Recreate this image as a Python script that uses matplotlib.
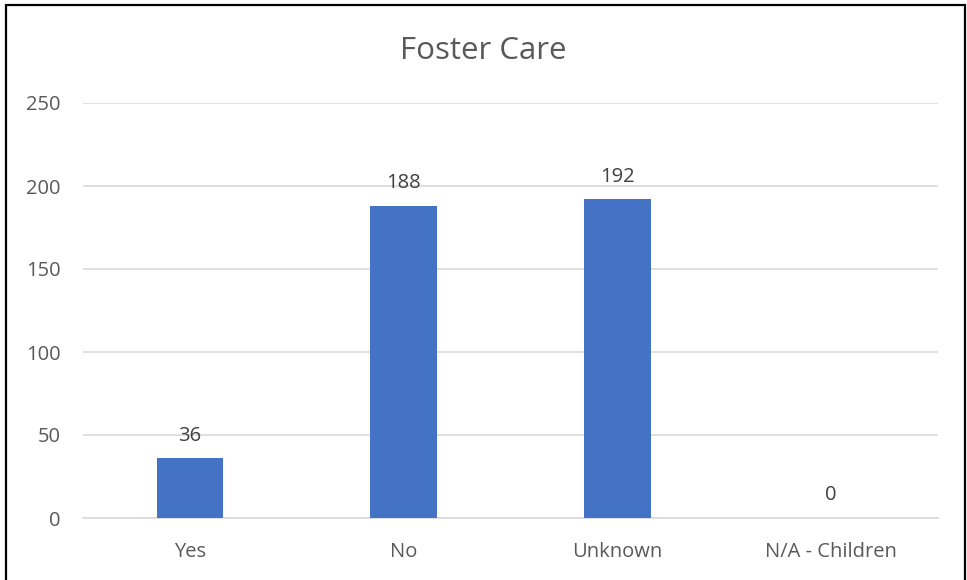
import matplotlib.pyplot as plt
from matplotlib.patches import Rectangle

categories = ['Yes', 'No', 'Unknown', 'N/A - Children']
counts = [36, 188, 192, 0]
yticks = [0, 50, 100, 150, 200, 250]


def main():
    plt.rcParams['font.family'] = ['Open Sans', 'DejaVu Sans']
    fig = plt.figure(figsize=(9.67, 5.80), dpi=100)
    ax = fig.add_axes([83 / 967, 1 - 518 / 580, (938 - 83) / 967, (518 - 103) / 580])

    x = range(len(categories))
    bars = ax.bar(x, counts, width=0.31, color='#4472c4', zorder=3)
    for b, v in zip(bars, counts):
        ax.annotate(str(v), (b.get_x() + b.get_width() / 2, v),
                    xytext=(0, 9), textcoords='offset points',
                    ha='center', va='bottom', fontsize=14.5, color='#404040')

    ax.set_xlim(-0.5, len(categories) - 0.5)
    ax.set_ylim(0, 250)
    ax.set_yticks(yticks)
    ax.set_xticks(list(x))
    ax.set_xticklabels(categories)
    ax.grid(axis='y', color='#d9d9d9', linewidth=1.2, zorder=0)
    for s in ['top', 'right', 'left']:
        ax.spines[s].set_visible(False)
    ax.spines['bottom'].set_color('#d9d9d9')
    ax.spines['bottom'].set_linewidth(1.2)
    ax.tick_params(axis='both', length=0, labelsize=14.5, labelcolor='#595959')
    ax.tick_params(axis='y', pad=16)
    ax.tick_params(axis='x', pad=17)

    fig.text(0.5, 1 - 51 / 580, 'Foster Care', ha='center', va='center',
             fontsize=22.5, color='#595959')

    fig.patches.append(Rectangle((6 / 967, -0.1), (965 - 6) / 967, 1.1 - 5 / 580,
                                 transform=fig.transFigure, fill=False,
                                 edgecolor='black', linewidth=1.6))
    fig.savefig('out.png', dpi=100)


if __name__ == '__main__':
    main()
